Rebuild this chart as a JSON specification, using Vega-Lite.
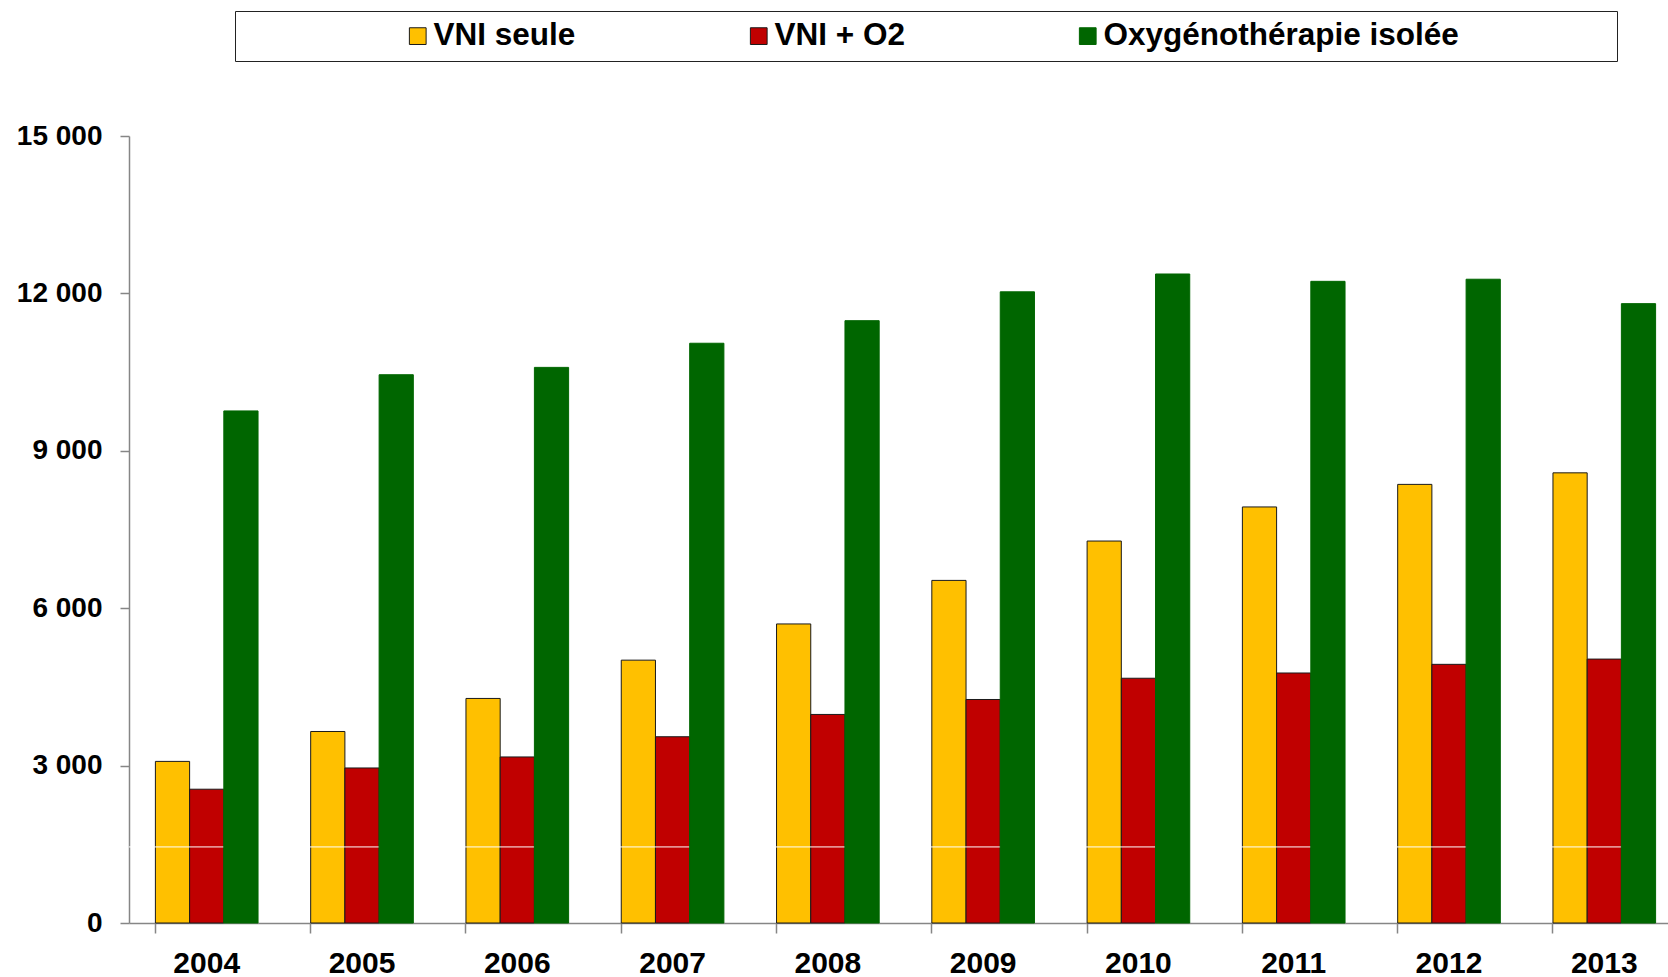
{
  "$schema": "https://vega.github.io/schema/vega-lite/v6.json",
  "width": 1539,
  "height": 787,
  "autosize": {"type": "none"},
  "padding": {"left": 129, "top": 136, "right": 0, "bottom": 54},
  "background": "white",
  "config": {"view": {"stroke": null}, "font": "Liberation Sans"},
  "data": {
    "values": [
      {"year": "2004", "series": "VNI seule", "value": 3080},
      {"year": "2004", "series": "VNI + O2", "value": 2550},
      {"year": "2004", "series": "Oxygénothérapie isolée", "value": 9760},
      {"year": "2005", "series": "VNI seule", "value": 3650},
      {"year": "2005", "series": "VNI + O2", "value": 2955},
      {"year": "2005", "series": "Oxygénothérapie isolée", "value": 10450},
      {"year": "2006", "series": "VNI seule", "value": 4280},
      {"year": "2006", "series": "VNI + O2", "value": 3165},
      {"year": "2006", "series": "Oxygénothérapie isolée", "value": 10590},
      {"year": "2007", "series": "VNI seule", "value": 5010},
      {"year": "2007", "series": "VNI + O2", "value": 3550},
      {"year": "2007", "series": "Oxygénothérapie isolée", "value": 11050},
      {"year": "2008", "series": "VNI seule", "value": 5700},
      {"year": "2008", "series": "VNI + O2", "value": 3975},
      {"year": "2008", "series": "Oxygénothérapie isolée", "value": 11480},
      {"year": "2009", "series": "VNI seule", "value": 6530},
      {"year": "2009", "series": "VNI + O2", "value": 4260},
      {"year": "2009", "series": "Oxygénothérapie isolée", "value": 12030},
      {"year": "2010", "series": "VNI seule", "value": 7280},
      {"year": "2010", "series": "VNI + O2", "value": 4665},
      {"year": "2010", "series": "Oxygénothérapie isolée", "value": 12370},
      {"year": "2011", "series": "VNI seule", "value": 7930},
      {"year": "2011", "series": "VNI + O2", "value": 4765},
      {"year": "2011", "series": "Oxygénothérapie isolée", "value": 12230},
      {"year": "2012", "series": "VNI seule", "value": 8360},
      {"year": "2012", "series": "VNI + O2", "value": 4930},
      {"year": "2012", "series": "Oxygénothérapie isolée", "value": 12270},
      {"year": "2013", "series": "VNI seule", "value": 8580},
      {"year": "2013", "series": "VNI + O2", "value": 5030},
      {"year": "2013", "series": "Oxygénothérapie isolée", "value": 11805}
    ]
  },
  "encoding": {
    "y": {
      "field": "value",
      "type": "quantitative",
      "title": null,
      "scale": {"domain": [0, 15000], "nice": false, "zero": true},
      "axis": {
        "values": [0, 3000, 6000, 9000, 12000, 15000],
        "labelExpr": "replace(format(datum.value, ','), ',', ' ')",
        "grid": false,
        "domainColor": "#868686",
        "domainWidth": 1.5,
        "tickColor": "#868686",
        "tickWidth": 1.5,
        "tickSize": 9,
        "labelFontSize": 28,
        "labelFontWeight": "bold",
        "labelColor": "black",
        "labelPadding": 18
      }
    }
  },
  "layer": [
    {
      "transform": [{"filter": "datum.series != 'Oxygénothérapie isolée'"}],
      "mark": {"type": "bar", "strokeWidth": 1},
      "encoding": {
        "x": {
          "field": "year",
          "type": "nominal",
          "title": null,
          "scale": {"range": [0, 1553], "paddingInner": 0.339, "paddingOuter": 0.17},
          "axis": {
            "bandPosition": 0,
            "labelAngle": 0,
            "domainColor": "#868686",
            "domainWidth": 1.5,
            "tickColor": "#868686",
            "tickWidth": 1.5,
            "tickSize": 10,
            "labelFontSize": 30,
            "labelFontWeight": "bold",
            "labelColor": "black",
            "labelPadding": 15
          }
        },
        "xOffset": {
          "field": "series",
          "type": "nominal",
          "scale": {"domain": ["VNI seule", "VNI + O2", "Oxygénothérapie isolée"], "paddingInner": 0, "paddingOuter": 0}
        },
        "color": {
          "field": "series",
          "type": "nominal",
          "scale": {"domain": ["VNI seule", "VNI + O2", "Oxygénothérapie isolée"], "range": ["#FFC000", "#C00000", "#006600"]},
          "legend": {
            "title": "\u00a0",
            "titleOrient": "right",
            "titlePadding": 149,
            "titleFontSize": 31,
            "orient": "none",
            "legendX": 106,
            "legendY": -125,
            "direction": "horizontal",
            "columnPadding": 9,
            "symbolOffset": 158,
            "labelOffset": 0,
            "labelLimit": 600,
            "symbolType": "square",
            "symbolSize": 280,
            "symbolStrokeWidth": 1,
            "labelFontSize": 31.5,
            "labelFontWeight": "bold",
            "labelColor": "black",
            "strokeColor": "#222222",
            "fillColor": "white",
            "padding": 9
          }
        },
        "stroke": {
          "field": "series",
          "type": "nominal",
          "scale": {"domain": ["VNI seule", "VNI + O2", "Oxygénothérapie isolée"], "range": ["#1a1a1a", "#1a1a1a", "#006600"]}
        }
      }
    },
    {
      "data": {"values": [{"value": 1450}]},
      "mark": {"type": "rule", "color": "white", "strokeWidth": 1},
      "encoding": {}
    },
    {
      "transform": [{"filter": "datum.series == 'Oxygénothérapie isolée'"}],
      "mark": {"type": "bar", "strokeWidth": 1},
      "encoding": {
        "x": {"field": "year", "type": "nominal"},
        "xOffset": {"field": "series", "type": "nominal"},
        "color": {"field": "series", "type": "nominal"},
        "stroke": {"field": "series", "type": "nominal"}
      }
    }
  ]
}
